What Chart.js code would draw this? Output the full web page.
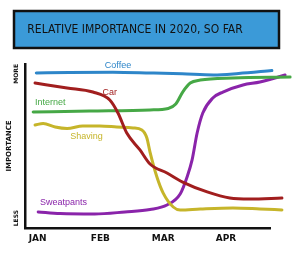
<!DOCTYPE html>
<html>
<head>
<meta charset="utf-8">
<script src="https://cdn.jsdelivr.net/npm/chart.js@4.4.1/dist/chart.umd.min.js"></script>
<style>
  html, body { margin: 0; padding: 0; background: #fff; }
</style>
</head>
<body>
<canvas id="importanceChart" width="300" height="260"></canvas>
<script>
// x = months since start of January, y = importance (0 = less, 10 = more)
const monthPos = [0, 1, 2, 3]
const monthLabels = ['JAN', 'FEB', 'MAR', 'APR']
const levelPos = [1.1, 10]
const levelLabels = ['LESS', 'MORE']

const seriesNames = ['Coffee', 'Car', 'Internet', 'Shaving', 'Sweatpants']

const coffee = [[-0.02, 9.45], [0.5, 9.48], [1.2, 9.5], [1.8, 9.45], [2.3, 9.4], [2.8, 9.33], [3.2, 9.42], [3.73, 9.6]]
const car = [[-0.04, 8.84], [0.47, 8.54], [0.88, 8.29], [1.15, 7.8], [1.28, 7.01], [1.42, 5.79], [1.63, 4.76], [1.79, 3.9],
  [2.06, 3.35], [2.31, 2.8], [2.7, 2.2], [3.06, 1.83], [3.38, 1.77], [3.89, 1.83]]
const internet = [[-0.07, 7.07], [0.83, 7.13], [1.79, 7.2], [2.08, 7.29], [2.2, 7.56], [2.31, 8.29], [2.43, 8.84],
  [2.59, 9.02], [3.11, 9.15], [4.02, 9.2]]
const shaving = [[-0.04, 6.28], [0.09, 6.37], [0.28, 6.16], [0.47, 6.07], [0.72, 6.22], [0.99, 6.22], [1.26, 6.16],
  [1.52, 6.1], [1.66, 5.98], [1.74, 5.49], [1.79, 4.63], [1.9, 3.11], [2.0, 2.13], [2.16, 1.28], [2.27, 1.1],
  [2.59, 1.16], [3.11, 1.22], [3.54, 1.16], [3.89, 1.1]]
const sweatpants = [[0.01, 0.98], [0.36, 0.88], [0.91, 0.85], [1.39, 0.98], [1.79, 1.13], [2.06, 1.4], [2.27, 2.07],
  [2.38, 3.11], [2.46, 4.15], [2.54, 5.79], [2.63, 7.01], [2.79, 7.93], [2.95, 8.29], [3.27, 8.72], [3.54, 8.9], [3.94, 9.33]]

const seriesData = [coffee, car, internet, shaving, sweatpants]
const seriesColors = ['#2e86c9', '#a11e1e', '#46a846', '#c6b52a', '#8a24aa']

// where each hand written name sits, in chart units
const labelSpots = [
  { x: 1.28, y: 9.88, align: 'center' },
  { x: 1.15, y: 8.26, align: 'center' },
  { x: -0.04, y: 7.68, align: 'left' },
  { x: 0.52, y: 5.55, align: 'left' },
  { x: 0.04, y: 1.55, align: 'left' }
]

// blue box behind the title
const titleBox = {
  id: 'titleBox',
  beforeDraw(chart) {
    const c = chart.ctx
    c.save()
    c.fillStyle = '#3b9ad8'
    c.strokeStyle = '#111'
    c.lineWidth = 2.5
    c.beginPath()
    c.rect(14, 11, 265, 37)
    c.fill()
    c.stroke()
    c.restore()
  }
}

// names written next to the lines
const seriesLabels = {
  id: 'seriesLabels',
  afterDatasetsDraw(chart) {
    const { ctx, scales: { x, y } } = chart
    ctx.save()
    ctx.font = '9px "Liberation Sans"'
    ctx.textBaseline = 'middle'
    chart.data.datasets.forEach((ds, i) => {
      const spot = labelSpots[i]
      ctx.fillStyle = ds.borderColor
      ctx.textAlign = spot.align
      ctx.fillText(ds.label, x.getPixelForValue(spot.x), y.getPixelForValue(spot.y))
    })
    ctx.restore()
  }
}

const ctx = document.getElementById('importanceChart').getContext('2d')
const importanceChart = new Chart(ctx, {
  type: 'line',
  data: {
    datasets: seriesNames.map((name, i) => ({
      label: name,
      data: seriesData[i].map(p => ({ x: p[0], y: p[1] })),
      borderColor: seriesColors[i],
      borderWidth: 3,
      borderCapStyle: 'round',
      borderJoinStyle: 'round',
      pointRadius: 0,
      cubicInterpolationMode: 'monotone',
      clip: false
    }))
  },
  options: {
    responsive: false,
    animation: false,
    layout: { padding: { left: 0, right: 30, top: 0, bottom: 0 } },
    plugins: {
      legend: { display: false },
      tooltip: { enabled: false },
      title: {
        display: true,
        text: 'RELATIVE IMPORTANCE IN 2020, SO FAR',
        color: '#111',
        font: { family: '"DejaVu Sans Condensed"', size: 12, weight: 'normal' },
        padding: { top: 23, bottom: 26.6 }
      }
    },
    scales: {
      x: {
        type: 'linear',
        min: -0.2,
        max: 3.7,
        grid: { display: false, drawTicks: false },
        border: { display: true, color: '#111', width: 2.5 },
        afterBuildTicks: scale => { scale.ticks = monthPos.map(v => ({ value: v })) },
        afterFit: scale => { scale.height = 32 },
        ticks: {
          autoSkip: false,
          maxRotation: 0,
          padding: 5,
          color: '#111',
          font: { family: '"DejaVu Sans"', size: 9, weight: 'bold' },
          callback: value => monthLabels[monthPos.indexOf(value)]
        }
      },
      y: {
        type: 'linear',
        min: 0,
        max: 10,
        grid: { display: false, drawTicks: false },
        border: { display: true, color: '#111', width: 2.5 },
        afterBuildTicks: scale => { scale.ticks = levelPos.map(v => ({ value: v })) },
        afterFit: scale => { scale.width = 25 },
        title: {
          display: true,
          text: 'IMPORTANCE',
          color: '#111',
          font: { family: '"DejaVu Sans"', size: 7, weight: 'bold' },
          padding: { top: 5, bottom: 0 }
        },
        ticks: {
          autoSkip: false,
          minRotation: 90,
          maxRotation: 90,
          padding: 9,
          color: '#111',
          font: { family: '"DejaVu Sans"', size: 6, weight: 'bold' },
          callback: value => levelLabels[levelPos.indexOf(value)]
        }
      }
    }
  },
  plugins: [titleBox, seriesLabels]
})
</script>
</body>
</html>
